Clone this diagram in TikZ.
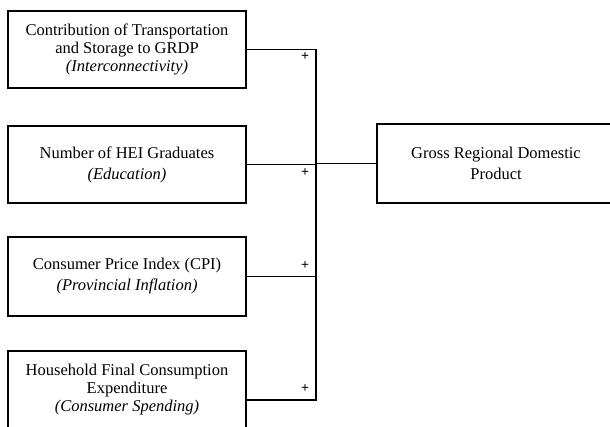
\documentclass[tikz,border=0pt]{standalone}
\usepackage{fontspec}
\setmainfont{Liberation Serif}
\usetikzlibrary{calc}

\tikzset{
  factor/.style={draw, line width=1.3pt, fill=white, minimum width=238pt, minimum height=77pt,
    align=center, font=\fontsize{16.5}{18}\selectfont, inner sep=2pt},
  link/.style={line width=1.3pt},
  sign/.style={font=\fontsize{14}{14}\selectfont\bfseries, inner sep=0pt}
}

\begin{document}
\begin{tikzpicture}[x=1pt, y=-1pt]
\useasboundingbox (0,0) rectangle (610,426);
\clip (0,0) rectangle (610,426);
\node[factor] (in1) at (127,49.5) {Contribution of Transportation\\ and Storage to GRDP\\ \textit{(Interconnectivity)}};
\node[factor] (in2) at (127,164.5) {Number of HEI Graduates\\[3pt] \textit{(Education)}};
\node[factor, minimum height=79pt] (in3) at (127,276.5) {Consumer Price Index (CPI)\\[3pt] \textit{(Provincial Inflation)}};
\node[factor] (in4) at (127,389.5) {Household Final Consumption\\ Expenditure\\ \textit{(Consumer Spending)}};
\node[factor, minimum height=79pt] (out) at (496,163.5) {Gross Regional Domestic\\[3pt] Product};
\coordinate (bus) at (316,0);
\coordinate (p4) at ([yshift=-10.5pt]in4.east);
\coordinate (j4) at (p4 -| bus);
\draw[link] (in1.east) -| (j4) -- (p4);
\draw[link] (in2.east) -- (in2.east -| bus);
\draw[link] (in3.east) -- (in3.east -| bus);
\draw[link] (out.west -| bus) -- (out.west);
\node[sign] at (305,57) {+};
\node[sign] at (305,173) {+};
\node[sign] at (305,266) {+};
\node[sign] at (305,389) {+};
\end{tikzpicture}
\end{document}
